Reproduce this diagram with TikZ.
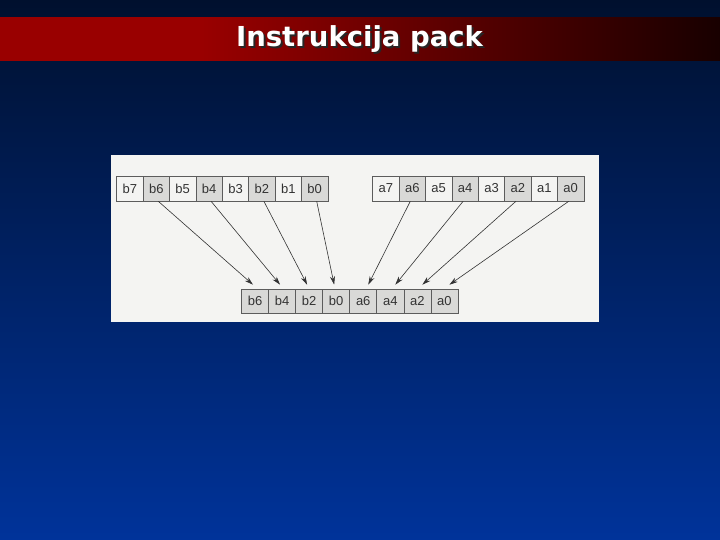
\documentclass[tikz,border=0pt]{standalone}
\usepackage{fontspec}
\setmainfont{Liberation Sans}
\newfontfamily\titlefont{DejaVu Sans}
\usepackage{tikz}
\usetikzlibrary{positioning,arrows.meta}

\definecolor{bgtop}{HTML}{00102E}
\definecolor{bgbottom}{HTML}{00339A}
\definecolor{barred}{HTML}{990000}
\definecolor{bardark}{HTML}{180000}
\definecolor{paper}{HTML}{F4F4F2}
\definecolor{shade}{HTML}{D9D9D7}
\definecolor{ink}{HTML}{333333}

\pgfdeclarehorizontalshading{titlebar}{100bp}{%
  color(0bp)=(barred); color(25bp)=(barred); color(39bp)=(barred);
  color(75bp)=(bardark); color(100bp)=(bardark)}

\begin{document}
\begin{tikzpicture}[x=1pt,y=-1pt,
      cell/.style={draw=ink!80,line width=0.6pt,minimum width=26.4pt,
        minimum height=25pt,inner sep=0pt,text=ink,font=\fontsize{13}{15}\selectfont},
      packed/.style={cell,fill=shade,minimum width=27.06pt,minimum height=24pt},
      move/.style={draw=ink,line width=0.6pt,
        -{Stealth[length=8.5pt,width=5pt]}},
      heading/.style={font=\titlefont\bfseries\fontsize{27.5}{32}\selectfont}]

      \useasboundingbox (0,0) rectangle (720,540);
      \shade[top color=bgtop,bottom color=bgbottom] (0,0) rectangle (720,540);

      % title bar
      \shade[shading=titlebar] (0,17.5) rectangle (720,61);
      \node[heading,text=black!85] (titleshadow) at (361.5,41.5) {Instrukcija pack};
      \node[heading,text=white] (title) at (359.5,39.5) {Instrukcija pack};

      % white panel
      \fill[paper] (110.5,155.5) rectangle (599.3,321.5);

      % source registers
      \foreach \bit [count=\i from 0] in {7,6,...,0} {
        \ifodd\bit \def\cellfill{paper}\else \def\cellfill{shade}\fi
        \node[cell,fill=\cellfill] (b\bit) at (129.9+26.4*\i,188.5) {b\bit};
        \node[cell,fill=\cellfill] (a\bit) at (385.9+26.4*\i,188.5) {a\bit};
      }

      % packed result
      \foreach \name [count=\i from 0] in {b6,b4,b2,b0,a6,a4,a2,a0}
        \node[packed] (p\name) at (255+27.06*\i,301) {\name};

      % moves
      \foreach \bit in {6,4,2,0} {
        \draw[move] ([xshift=2pt]b\bit.south) -- ([xshift=-2pt,yshift=4pt]pb\bit.north);
        \draw[move] ([xshift=-2pt]a\bit.south) -- ([xshift=5pt,yshift=4pt]pa\bit.north);
      }
\end{tikzpicture}
\end{document}
